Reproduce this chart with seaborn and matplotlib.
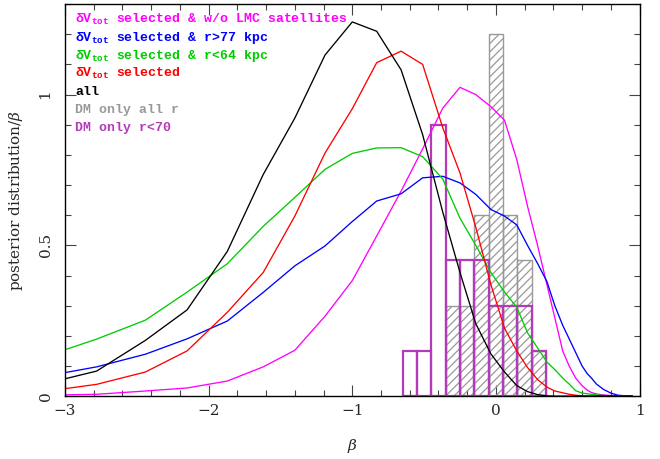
import numpy as np
import pandas as pd
import matplotlib
matplotlib.use("Agg")
import matplotlib.pyplot as plt
import seaborn as sns

# beta grid on which the posterior curves were sampled
beta = [-3.15, -2.78, -2.44, -2.15, -1.87, -1.62, -1.40, -1.19, -1.00, -0.83,
        -0.66, -0.51, -0.37, -0.25, -0.14, -0.035, 0.06, 0.145, 0.22, 0.29,
        0.355, 0.41, 0.465, 0.51, 0.555, 0.60, 0.635, 0.665, 0.70, 0.75,
        0.80, 0.85, 0.90, 0.95]

post_nolmc = [0.003, 0.006, 0.017, 0.027, 0.05, 0.097, 0.152, 0.265, 0.383, 0.531,
              0.68, 0.82, 0.955, 1.024, 1.0, 0.96, 0.915, 0.785, 0.63, 0.50,
              0.37, 0.26, 0.15, 0.10, 0.06, 0.035, 0.02, 0.012, 0.007, 0.004,
              0.002, 0.001, 0.0, 0.0]
post_far = [0.065, 0.097, 0.139, 0.19, 0.249, 0.344, 0.432, 0.498, 0.579, 0.647,
            0.671, 0.724, 0.729, 0.707, 0.669, 0.619, 0.597, 0.568, 0.50, 0.44,
            0.38, 0.30, 0.235, 0.19, 0.145, 0.10, 0.075, 0.06, 0.04, 0.022,
            0.01, 0.003, 0.001, 0.0]
post_near = [0.13, 0.189, 0.252, 0.345, 0.439, 0.563, 0.659, 0.752, 0.805, 0.823,
             0.824, 0.794, 0.72, 0.59, 0.50, 0.41, 0.345, 0.295, 0.21, 0.16,
             0.113, 0.088, 0.06, 0.04, 0.018, 0.01, 0.008, 0.006, 0.004, 0.002,
             0.001, 0.0, 0.0, 0.0]
post_sel = [0.015, 0.039, 0.08, 0.15, 0.278, 0.41, 0.597, 0.806, 0.953, 1.106,
            1.144, 1.10, 0.89, 0.74, 0.56, 0.37, 0.225, 0.15, 0.095, 0.055,
            0.03, 0.017, 0.011, 0.006, 0.003, 0.001, 0.0, 0.0, 0.0, 0.0,
            0.0, 0.0, 0.0, 0.0]
post_all = [0.04, 0.083, 0.185, 0.286, 0.48, 0.735, 0.922, 1.131, 1.241, 1.21,
            1.082, 0.867, 0.61, 0.41, 0.24, 0.14, 0.08, 0.035, 0.015, 0.005,
            0.001, 0.0, 0.0, 0.0, 0.0, 0.0, 0.0, 0.0, 0.0, 0.0,
            0.0, 0.0, 0.0, 0.0]

# DM-only histograms, bins of width 0.1
bin_centers = [-0.6, -0.5, -0.4, -0.3, -0.2, -0.1, 0.0, 0.1, 0.2, 0.3]
dm_all = [0.0, 0.0, 0.0, 0.3, 0.3, 0.6, 1.2, 0.6, 0.45, 0.15]
dm_r70 = [0.15, 0.15, 0.9, 0.45, 0.45, 0.45, 0.3, 0.3, 0.3, 0.15]

labels = [r"δV$_{\rm tot}$ selected & w/o LMC satellites",
          r"δV$_{\rm tot}$ selected & r>77 kpc",
          r"δV$_{\rm tot}$ selected & r<64 kpc",
          r"δV$_{\rm tot}$ selected",
          "all",
          "DM only all r",
          "DM only r<70"]
colors = ["#ff00ff", "#0000ff", "#00cc00", "#ff0000", "#000000", "#999999", "#b23cb8"]

sns.set_theme(style="ticks")
plt.rcParams["font.family"] = ["DejaVu Serif"]
plt.rcParams["mathtext.fontset"] = "custom"
plt.rcParams["mathtext.rm"] = "Liberation Mono:bold"
plt.rcParams["mathtext.it"] = "DejaVu Serif:italic"
plt.rcParams["hatch.linewidth"] = 0.9

fig = plt.figure(figsize=(6.6, 4.59), dpi=100)
ax = fig.add_axes([0.0985, 0.137, 0.8705, 0.854])

curves = pd.DataFrame({
    "beta": beta * 5,
    "post": post_nolmc + post_far + post_near + post_sel + post_all,
    "set": sum([[lab] * len(beta) for lab in labels[:5]], []),
})
sns.lineplot(data=curves, x="beta", y="post", hue="set", hue_order=labels[:5],
             palette=colors[:5], estimator=None, sort=False, legend=False,
             linewidth=0.95, ax=ax)

ax.bar(bin_centers, dm_all, width=0.1, facecolor="none", edgecolor=colors[5],
       hatch="////", linewidth=1.0)
ax.bar(bin_centers, dm_r70, width=0.1, facecolor="none", edgecolor=colors[6],
       linewidth=1.6)

ax.set_xlim(-3, 1)
ax.set_ylim(0, 1.3)
ax.set_xticks([-3, -2, -1, 0, 1])
ax.set_xticks(np.arange(-3, 1.01, 0.2), minor=True)
ax.set_yticks([0, 0.5, 1])
ax.set_yticklabels(["0", "0.5", "1"])
ax.set_yticks(np.arange(0, 1.31, 0.1), minor=True)
ax.tick_params(which="both", direction="in", top=True, right=True,
               color="#444444", width=0.8)
ax.tick_params(which="major", length=8, labelsize=11)
ax.tick_params(which="minor", length=4)
ax.tick_params(axis="x", which="major", pad=6)
ax.tick_params(axis="y", which="major", pad=9, labelrotation=90)
for lab in ax.get_yticklabels():
    lab.set_va("center")
for sp in ax.spines.values():
    sp.set_linewidth(1.0)
    sp.set_color("black")

ax.set_xlabel(r"$\beta$", fontsize=11, labelpad=13)
ax.set_ylabel(r"posterior distribution/$\beta$", fontsize=11, labelpad=10)

for i, (lab, col) in enumerate(zip(labels, colors)):
    y_px = 22.5 + 18.1 * i
    ax.text(0.0174, (396 - y_px) / 392, lab, color=col, transform=ax.transAxes,
            family="Liberation Mono", fontweight="bold", fontsize=9.5,
            va="baseline", ha="left")

fig.savefig("out.png", dpi=100)
